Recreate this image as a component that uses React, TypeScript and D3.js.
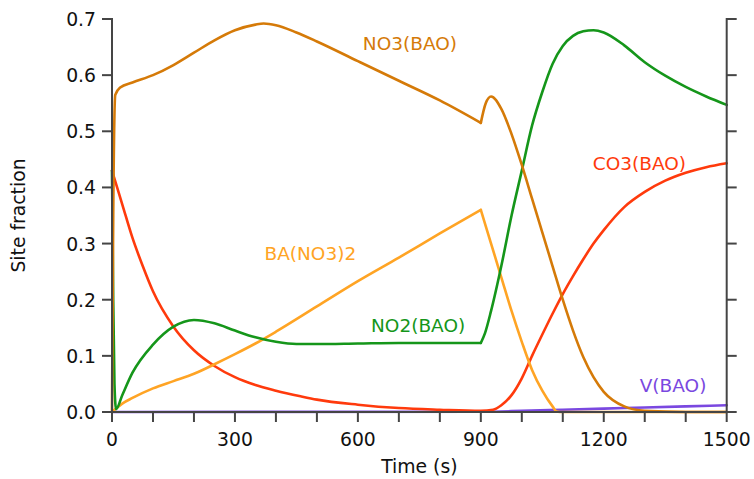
import React from "react";
import * as d3 from "d3";

// Site fractions of the BaO storage sites over one lean/rich cycle
const no3Time = [0, 3, 8, 20, 50, 100, 150, 200, 250, 300, 350, 370, 400, 450, 500, 600, 700, 800, 900, 912, 925, 950, 975, 1000, 1025, 1050, 1075, 1100, 1125, 1150, 1175, 1200, 1250, 1300, 1400, 1500];
const no3Value = [0, 0.35, 0.565, 0.578, 0.587, 0.6, 0.618, 0.64, 0.662, 0.68, 0.69, 0.692, 0.689, 0.676, 0.66, 0.625, 0.59, 0.555, 0.515, 0.55, 0.562, 0.54, 0.495, 0.44, 0.38, 0.32, 0.26, 0.2, 0.145, 0.098, 0.062, 0.036, 0.01, 0.002, 0, 0];

const no2Time = [0, 3, 6, 10, 25, 50, 100, 150, 200, 250, 300, 350, 400, 450, 500, 600, 700, 800, 900, 910, 925, 950, 975, 1000, 1025, 1050, 1075, 1100, 1125, 1150, 1175, 1200, 1250, 1300, 1350, 1400, 1450, 1500];
const no2Value = [0.43, 0.2, 0.05, 0.005, 0.03, 0.07, 0.12, 0.152, 0.164, 0.158, 0.145, 0.133, 0.125, 0.121, 0.121, 0.122, 0.123, 0.123, 0.123, 0.14, 0.18, 0.26, 0.35, 0.43, 0.51, 0.57, 0.62, 0.652, 0.67, 0.678, 0.68, 0.676, 0.653, 0.623, 0.599, 0.579, 0.562, 0.547];

const co3Time = [0, 25, 50, 75, 100, 150, 200, 250, 300, 350, 400, 460, 500, 600, 700, 800, 900, 930, 950, 975, 1000, 1025, 1050, 1075, 1100, 1125, 1150, 1175, 1200, 1250, 1300, 1350, 1400, 1450, 1500];
const co3Value = [0.43, 0.37, 0.31, 0.26, 0.215, 0.152, 0.11, 0.082, 0.062, 0.048, 0.038, 0.028, 0.022, 0.013, 0.007, 0.004, 0.002, 0.004, 0.012, 0.03, 0.06, 0.1, 0.138, 0.175, 0.21, 0.242, 0.272, 0.3, 0.324, 0.365, 0.392, 0.412, 0.426, 0.436, 0.443];

const baTime = [0, 25, 50, 100, 150, 200, 250, 300, 350, 400, 500, 600, 700, 800, 900, 925, 950, 975, 1000, 1025, 1050, 1075, 1085, 1100, 1500];
const baValue = [0, 0.015, 0.025, 0.042, 0.055, 0.068, 0.085, 0.103, 0.122, 0.143, 0.188, 0.233, 0.275, 0.318, 0.36, 0.3, 0.24, 0.18, 0.125, 0.075, 0.038, 0.01, 0.001, 0, 0];

const vTime = [0, 900, 1000, 1100, 1200, 1300, 1400, 1500];
const vValue = [0, 0.0005, 0.002, 0.004, 0.006, 0.008, 0.01, 0.012];

// Switch from lean to rich feed: the curves have a kink here
const switchTime = 900;

const xTicks = d3.range(0, 1501, 100);
const xTickLabels = [0, 300, 600, 900, 1200, 1500];
const yTicks = [0, 0.1, 0.2, 0.3, 0.4, 0.5, 0.6, 0.7];

type Series = {
  name: string;
  time: number[];
  value: number[];
  color: string;
  labelT: number;
  labelV: number;
  kink: boolean;
};

const series: Series[] = [
  { name: "V(BAO)", time: vTime, value: vValue, color: "#7a48e0", labelT: 1369, labelV: 0.0356, kink: false },
  { name: "CO3(BAO)", time: co3Time, value: co3Value, color: "#ff3a0c", labelT: 1287, labelV: 0.431, kink: false },
  { name: "BA(NO3)2", time: baTime, value: baValue, color: "#ffa424", labelT: 484, labelV: 0.271, kink: true },
  { name: "NO2(BAO)", time: no2Time, value: no2Value, color: "#15961a", labelT: 747, labelV: 0.1425, kink: true },
  { name: "NO3(BAO)", time: no3Time, value: no3Value, color: "#d57a08", labelT: 727, labelV: 0.645, kink: true },
];

const W = 754;
const H = 479;
const m = { left: 112, right: 27.3, top: 19, bottom: 67 };
const font = "'DejaVu Sans', Verdana, sans-serif";
const axisColor = "#454545";

export default function App() {
  const x = d3.scaleLinear().domain([0, 1500]).range([m.left, W - m.right]);
  const y = d3.scaleLinear().domain([0, 0.7]).range([H - m.bottom, m.top]);

  const line = d3
    .line<[number, number]>()
    .x((d) => x(d[0]))
    .y((d) => y(d[1]))
    .curve(d3.curveMonotoneX);

  const segments = (s: Series) => {
    const pts: [number, number][] = s.time.map((t, i) => [t, s.value[i]]);
    if (!s.kink) return [pts];
    return [pts.filter((p) => p[0] <= switchTime), pts.filter((p) => p[0] >= switchTime)];
  };

  const x0 = x(0);
  const x1 = x(1500);
  const y0 = y(0);
  const y1 = y(0.7);

  return (
    <svg width={W} height={H} style={{ position: "absolute", left: 0, top: 0, background: "#fff" }}>
      {series.map((s) =>
        segments(s).map((seg, i) => (
          <path
            key={s.name + i}
            d={line(seg) || ""}
            fill="none"
            stroke={s.color}
            strokeWidth={2.6}
            strokeLinejoin="round"
            strokeLinecap="round"
          />
        ))
      )}

      {/* axes */}
      <g stroke={axisColor} strokeWidth={2} fill="none">
        <line x1={x0} x2={x0} y1={y1 - 1} y2={y0 + 1} />
        <line x1={x1} x2={x1} y1={y1 - 1} y2={y0 + 1} />
        <line x1={x0 - 1} x2={x1 + 1} y1={y0} y2={y0} />
        {yTicks.map((v) => (
          <line key={"l" + v} x1={x0 - 10} x2={x0} y1={y(v)} y2={y(v)} />
        ))}
        {yTicks.map((v) => (
          <line key={"r" + v} x1={x1} x2={x1 + 10} y1={y(v)} y2={y(v)} />
        ))}
        {xTicks.map((t) => (
          <line key={"b" + t} x1={x(t)} x2={x(t)} y1={y0} y2={y0 + 10} />
        ))}
      </g>

      <g fontFamily={font} fontSize={18.8} fill="#111">
        {yTicks.map((v) => (
          <text key={"yl" + v} x={x0 - 16} y={y(v) + 7} textAnchor="end">
            {d3.format(".1f")(v)}
          </text>
        ))}
        {xTickLabels.map((t) => (
          <text key={"xl" + t} x={x(t)} y={y0 + 34} textAnchor="middle">
            {t}
          </text>
        ))}
        <text x={(x0 + x1) / 2} y={H - 6} textAnchor="middle">
          Time (s)
        </text>
        <text transform={`translate(25,${(y0 + y1) / 2}) rotate(-90)`} textAnchor="middle">
          Site fraction
        </text>
      </g>

      <g fontFamily={font} fontSize={18.5}>
        {series.map((s) => (
          <text key={"lab" + s.name} x={x(s.labelT)} y={y(s.labelV)} fill={s.color} textAnchor="middle">
            {s.name}
          </text>
        ))}
      </g>
    </svg>
  );
}
